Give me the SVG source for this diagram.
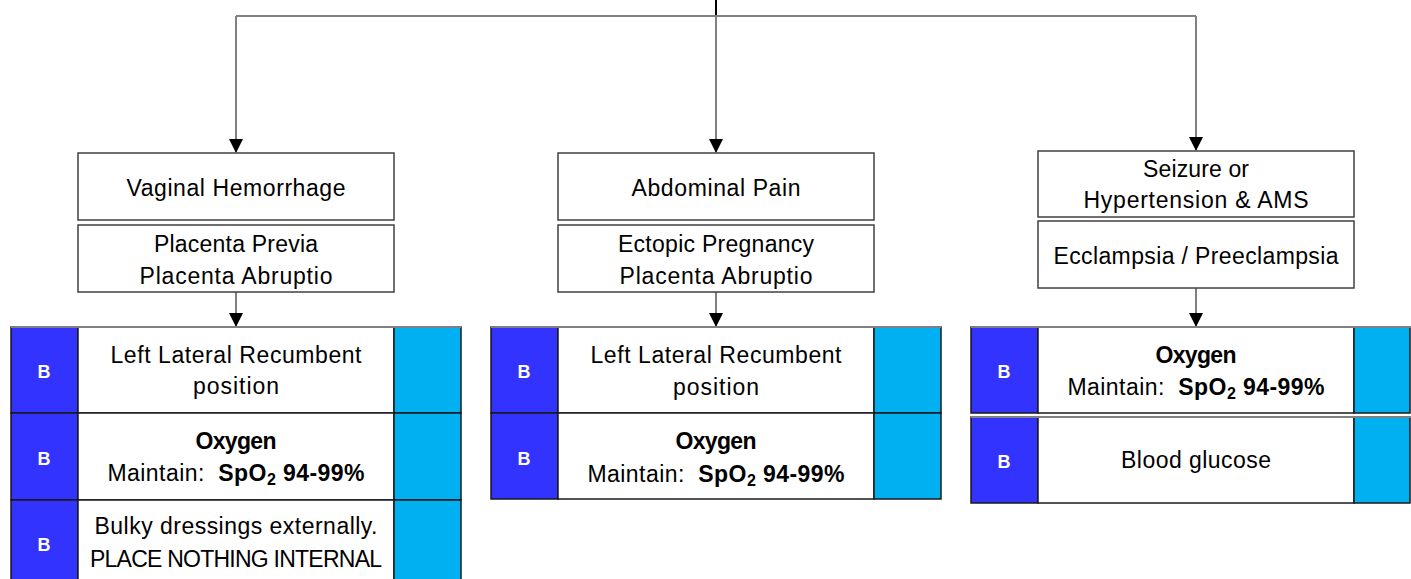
<svg xmlns="http://www.w3.org/2000/svg" width="1411" height="579" viewBox="0 0 1411 579">
<style>
  .box { fill: #ffffff; stroke: #404040; stroke-width: 1.5; }
  .cell { fill: #ffffff; stroke: #1a1a1a; stroke-width: 1.5; }
  .bl { fill: #3333FF; stroke: #1a1a1a; stroke-width: 1.5; }
  .cy { fill: #00B0F0; stroke: #1a1a1a; stroke-width: 1.5; }
  .t { font-family: "Liberation Sans", Arial, sans-serif; font-size: 23px; fill: #000; text-anchor: middle; }
  .b { font-weight: bold; }
  .lbl { font-family: "Liberation Sans", Arial, sans-serif; font-size: 18px; font-weight: bold; fill: #fff; text-anchor: middle; }
  .con { stroke: #808080; stroke-width: 2; fill: none; }
</style>
<defs>
  <marker id="arr" markerUnits="userSpaceOnUse" markerWidth="14" markerHeight="14" refX="13" refY="7" orient="auto">
    <path d="M0,0 L14,7 L0,14 Z" fill="#000"/>
  </marker>
</defs>

<g id="connectors">
  <line x1="716" y1="0" x2="716" y2="16" stroke="#000" stroke-width="2"/>
  <polyline class="con" points="236,16 1196,16"/>
  <line class="con" x1="236" y1="16" x2="236" y2="152" marker-end="url(#arr)"/>
  <line class="con" x1="716" y1="16" x2="716" y2="152" marker-end="url(#arr)"/>
  <line class="con" x1="1196" y1="16" x2="1196" y2="150" marker-end="url(#arr)"/>
  <line class="con" x1="236" y1="292" x2="236" y2="326" marker-end="url(#arr)"/>
  <line class="con" x1="716" y1="292" x2="716" y2="326" marker-end="url(#arr)"/>
  <line class="con" x1="1196" y1="288" x2="1196" y2="326" marker-end="url(#arr)"/>
</g>

<!-- Left column -->
<g id="vaginal">
  <rect class="box" x="78" y="153" width="316" height="67"/>
  <text class="t" x="236" y="196" textLength="219" lengthAdjust="spacing">Vaginal Hemorrhage</text>
</g>
<g id="previa">
  <rect class="box" x="78" y="225" width="316" height="67"/>
  <text class="t" x="236" y="252" textLength="164" lengthAdjust="spacing">Placenta Previa</text>
  <text class="t" x="236" y="284" textLength="193" lengthAdjust="spacing">Placenta Abruptio</text>
</g>
<g id="left-row1">
  <rect class="bl" x="11" y="327" width="67" height="86"/>
  <rect class="cell" x="78" y="327" width="316" height="86"/>
  <rect class="cy" x="394" y="327" width="67" height="86"/>
  <line x1="11" y1="327" x2="461" y2="327" stroke="#808080" stroke-width="2"/>
  <text class="lbl" x="44" y="378">B</text>
  <text class="t" x="236" y="363" textLength="251" lengthAdjust="spacing">Left Lateral Recumbent</text>
  <text class="t" x="236" y="394" textLength="86" lengthAdjust="spacing">position</text>
</g>
<g id="left-row2">
  <rect class="bl" x="11" y="413" width="67" height="87"/>
  <rect class="cell" x="78" y="413" width="316" height="87"/>
  <rect class="cy" x="394" y="413" width="67" height="87"/>
  <text class="lbl" x="44" y="465">B</text>
  <text class="t b" x="236" y="449" textLength="81" lengthAdjust="spacing">Oxygen</text>
  <text class="t" x="236" y="481" xml:space="preserve" textLength="257" lengthAdjust="spacing">Maintain:  <tspan class="b">SpO</tspan><tspan class="b" font-size="16" dy="4">2</tspan><tspan class="b" dy="-4"> 94-99%</tspan></text>
</g>
<g id="left-row3">
  <rect class="bl" x="11" y="500" width="67" height="90"/>
  <rect class="cell" x="78" y="500" width="316" height="90"/>
  <rect class="cy" x="394" y="500" width="67" height="90"/>
  <text class="lbl" x="44" y="551">B</text>
  <text class="t" x="236" y="534" textLength="283" lengthAdjust="spacing">Bulky dressings externally.</text>
  <text class="t" x="236" y="567" font-size="22" textLength="292" lengthAdjust="spacing">PLACE NOTHING INTERNAL</text>
</g>

<!-- Middle column -->
<g id="abdominal">
  <rect class="box" x="558" y="153" width="316" height="67"/>
  <text class="t" x="716" y="196" textLength="169" lengthAdjust="spacing">Abdominal Pain</text>
</g>
<g id="ectopic">
  <rect class="box" x="558" y="225" width="316" height="67"/>
  <text class="t" x="716" y="252" textLength="196" lengthAdjust="spacing">Ectopic Pregnancy</text>
  <text class="t" x="716" y="284" textLength="193" lengthAdjust="spacing">Placenta Abruptio</text>
</g>
<g id="mid-row1">
  <rect class="bl" x="491" y="327" width="67" height="86"/>
  <rect class="cell" x="558" y="327" width="316" height="86"/>
  <rect class="cy" x="874" y="327" width="67" height="86"/>
  <line x1="491" y1="327" x2="941" y2="327" stroke="#808080" stroke-width="2"/>
  <text class="lbl" x="524" y="378">B</text>
  <text class="t" x="716" y="363" textLength="251" lengthAdjust="spacing">Left Lateral Recumbent</text>
  <text class="t" x="716" y="395" textLength="86" lengthAdjust="spacing">position</text>
</g>
<g id="mid-row2">
  <rect class="bl" x="491" y="413" width="67" height="86"/>
  <rect class="cell" x="558" y="413" width="316" height="86"/>
  <rect class="cy" x="874" y="413" width="67" height="86"/>
  <text class="lbl" x="524" y="465">B</text>
  <text class="t b" x="716" y="449" textLength="81" lengthAdjust="spacing">Oxygen</text>
  <text class="t" x="716" y="482" xml:space="preserve" textLength="257" lengthAdjust="spacing">Maintain:  <tspan class="b">SpO</tspan><tspan class="b" font-size="16" dy="4">2</tspan><tspan class="b" dy="-4"> 94-99%</tspan></text>
</g>

<!-- Right column -->
<g id="seizure">
  <rect class="box" x="1038" y="151" width="316" height="66"/>
  <text class="t" x="1196" y="177" textLength="106" lengthAdjust="spacing">Seizure or</text>
  <text class="t" x="1196" y="208" textLength="225" lengthAdjust="spacing">Hypertension &amp; AMS</text>
</g>
<g id="eclampsia">
  <rect class="box" x="1038" y="221" width="316" height="67"/>
  <text class="t" x="1196" y="264" textLength="285" lengthAdjust="spacing">Ecclampsia / Preeclampsia</text>
</g>
<g id="right-row1">
  <rect class="bl" x="971" y="327" width="67" height="86"/>
  <rect class="cell" x="1038" y="327" width="316" height="86"/>
  <rect class="cy" x="1354" y="327" width="56" height="86"/>
  <line x1="971" y1="327" x2="1411" y2="327" stroke="#808080" stroke-width="2"/>
  <text class="lbl" x="1004" y="378">B</text>
  <text class="t b" x="1196" y="363" textLength="81" lengthAdjust="spacing">Oxygen</text>
  <text class="t" x="1196" y="395" xml:space="preserve" textLength="257" lengthAdjust="spacing">Maintain:  <tspan class="b">SpO</tspan><tspan class="b" font-size="16" dy="4">2</tspan><tspan class="b" dy="-4"> 94-99%</tspan></text>
</g>
<g id="right-row2">
  <rect class="bl" x="971" y="417" width="67" height="86"/>
  <rect class="cell" x="1038" y="417" width="316" height="86"/>
  <rect class="cy" x="1354" y="417" width="56" height="86"/>
  <line x1="971" y1="417" x2="1411" y2="417" stroke="#808080" stroke-width="2"/>
  <text class="lbl" x="1004" y="468">B</text>
  <text class="t" x="1196" y="468" textLength="150" lengthAdjust="spacing">Blood glucose</text>
</g>
</svg>
